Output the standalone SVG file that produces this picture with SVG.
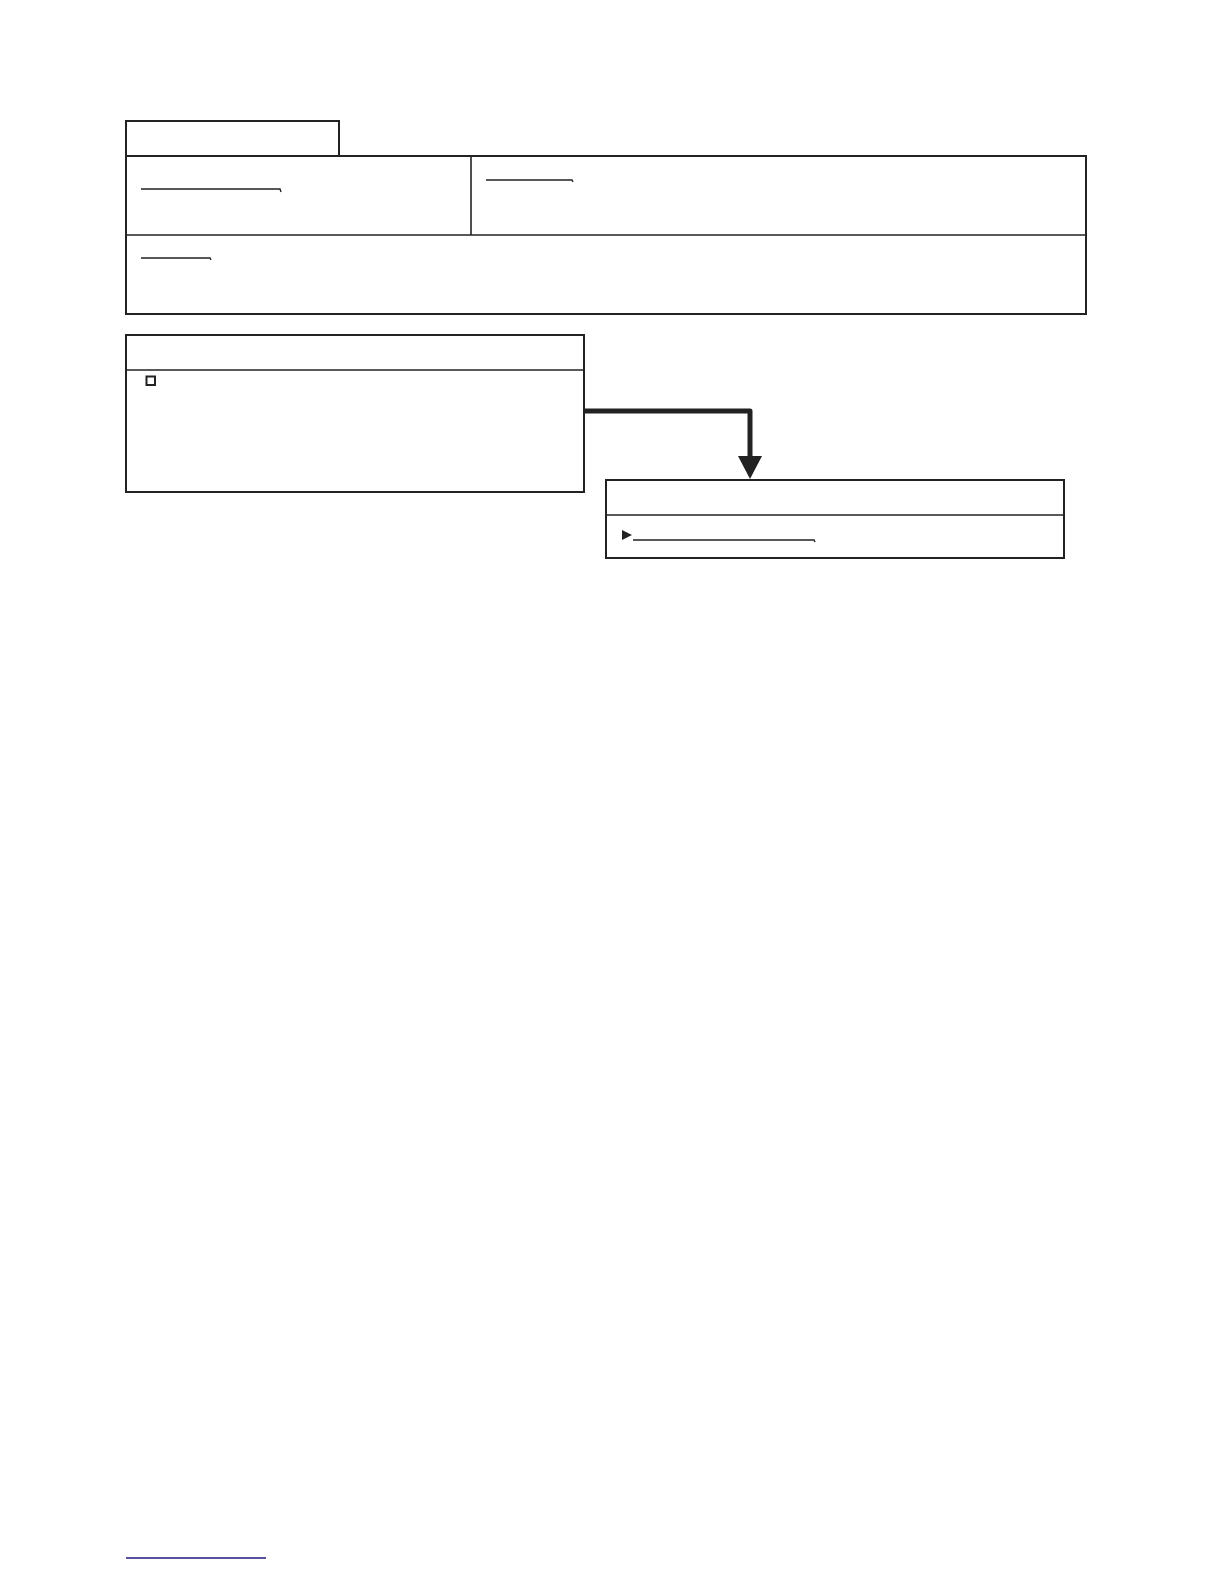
<svg xmlns="http://www.w3.org/2000/svg" width="1224" height="1584" viewBox="0 0 1224 1584">
<style>
.box{fill:#fff;stroke:#222;stroke-width:2}
.div{fill:none;stroke:#222;stroke-width:1.6}
.ul{fill:none;stroke:#222;stroke-width:1.4}
.conn{fill:none;stroke:#222;stroke-width:5;stroke-linejoin:round}
</style>
<defs>
<marker id="ah" markerWidth="23" markerHeight="24" refX="1" refY="12" orient="auto" markerUnits="userSpaceOnUse" viewBox="0 0 23 24">
<path d="M0,0 L23,12 L0,24 Z" fill="#222"/>
</marker>
</defs>
<rect width="1224" height="1584" fill="#fff"/>
<g id="header-tab">
<rect class="box" x="126" y="121" width="213" height="35"/>
</g>
<g id="main-panel">
<rect class="box" x="126" y="156" width="960" height="158"/>
<line class="div" x1="126" y1="235" x2="1086" y2="235"/>
<line class="div" x1="471" y1="156" x2="471" y2="235"/>
<path class="ul" d="M141,189 H280 L281,192"/>
<path class="ul" d="M486,180 H572 L573,182"/>
<path class="ul" d="M141,258 H210 L211,260"/>
</g>
<g id="source-node">
<rect class="box" x="126" y="335" width="458" height="157"/>
<line class="div" x1="126" y1="370" x2="584" y2="370"/>
<rect x="146.5" y="376.5" width="8.5" height="8.5" fill="#fff" stroke="#222" stroke-width="2"/>
</g>
<g id="connectors">
<path class="conn" d="M585,411 H750 V457" marker-end="url(#ah)"/>
</g>
<g id="target-node">
<rect class="box" x="606" y="480" width="458" height="78"/>
<line class="div" x1="606" y1="515" x2="1064" y2="515"/>
<path d="M622,530 L632,535 L622,540 Z" fill="#222"/>
<path class="ul" d="M633,540 H814 L815,542"/>
</g>
<g id="footer">
<line x1="126" y1="1558" x2="266" y2="1558" stroke="#1a1a80" stroke-width="1.5"/>
</g>
</svg>
